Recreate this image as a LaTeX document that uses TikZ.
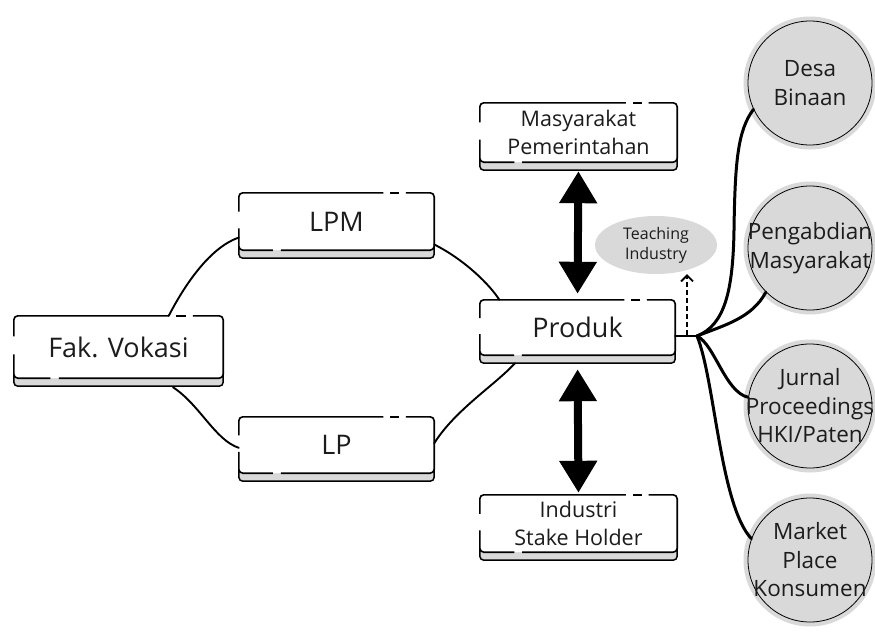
\documentclass[tikz,border=0pt]{standalone}
\usepackage{fontspec}
\setmainfont{Open Sans}
\usetikzlibrary{calc,arrows.meta,backgrounds,shapes.geometric}
\definecolor{shade}{HTML}{D9D9D9}
\definecolor{ink}{HTML}{1C1C1C}
\newcommand{\sketchframe}[1]{%
  \begin{pgfonlayer}{background}
    \filldraw[fill=shade, draw=black, line width=1.5pt, rounded corners=4pt]
      ($(#1.south west)+(0,8)$) rectangle ($(#1.south east)+(0,-8)$);
    \fill[white, rounded corners=4pt] (#1.south west) rectangle (#1.north east);
  \end{pgfonlayer}
  \draw[frameline] ($(#1.north west)!0.62!(#1.south west)$) -- (#1.south west) -- ($(#1.south west)!0.175!(#1.south east)$);
  \draw[frameline] ($(#1.south west)!0.215!(#1.south east)$) -- (#1.south east) -- (#1.north east) -- ($(#1.north west)!0.855!(#1.north east)$);
  \draw[frameline] ($(#1.north west)!0.82!(#1.north east)$) -- ($(#1.north west)!0.775!(#1.north east)$);
  \draw[frameline] ($(#1.north west)!0.74!(#1.north east)$) -- (#1.north west) -- ($(#1.north west)!0.33!(#1.south west)$);
}
\tikzset{
  frameline/.style={line width=1.6pt, rounded corners=4pt},
  boxnode/.style={inner sep=0pt, align=center, text=ink},
  bigtext/.style={font=\fontsize{27}{32}\selectfont},
  smalltext/.style={font=\fontsize{21.5}{28}\selectfont},
  bubble/.style={circle, minimum size=124pt, inner sep=0pt, fill=shade, draw=black, line width=0.8pt,
     preaction={draw=shade, line width=9pt}},
  bubbletext/.style={align=center, text=ink, font=\fontsize{22.5}{28.5}\selectfont},
  conn/.style={line width=1.9pt, line cap=round},
  fan/.style={line width=3pt, line cap=round},
  bigarrow/.style={line width=8pt, {Triangle[length=32pt,width=36pt]}-{Triangle[length=32pt,width=36pt]}},
}
\begin{document}
\begin{tikzpicture}[x=1pt,y=-1pt]
\useasboundingbox (0,0) rectangle (875,635);
\clip (0,0) rectangle (875,635);
\begin{pgfonlayer}{background}
  \fill[white] (0,0) rectangle (875,635);
\end{pgfonlayer}

% boxes
\node[boxnode, bigtext, minimum width=209pt, minimum height=62pt] (fak) at (118.5,347) {Fak. Vokasi};
\node[boxnode, bigtext, minimum width=195pt, minimum height=57pt] (lpm) at (336.5,221.5) {LPM};
\node[boxnode, bigtext, minimum width=195pt, minimum height=56pt] (lp) at (336.5,445) {LP};
\node[boxnode, smalltext, minimum width=197pt, minimum height=59pt] (mas) at (578.5,132.5) {Masyarakat\\Pemerintahan};
\node[boxnode, bigtext, minimum width=195pt, minimum height=55pt] (prod) at (577.5,327.5) {Produk};
\node[boxnode, smalltext, minimum width=197pt, minimum height=57pt] (ind) at (578.5,523.5) {Industri\\Stake Holder};
\sketchframe{fak}
\sketchframe{lpm}
\sketchframe{lp}
\sketchframe{mas}
\sketchframe{prod}
\sketchframe{ind}

% teaching industry
\node[ellipse, fill=shade, minimum width=122pt, minimum height=58pt, inner sep=0pt, align=center,
      text=ink, font=\fontsize{16}{20}\selectfont] (ti) at (656,245) {Teaching\\Industry};

% circles
\node[bubble] (desa) at (810,83) {};
\node[bubble] (peng) at (810,248) {};
\node[bubble] (jur) at (810,406) {};
\node[bubble] (mkt) at (810,560) {};
\node[bubbletext] at (desa) {Desa\\Binaan};
\node[bubbletext] at (peng) {Pengabdian\\Masyarakat};
\node[bubbletext] at (jur) {Jurnal\\Proceedings\\HKI/Paten};
\node[bubbletext] at (mkt) {Market\\Place\\Konsumen};

% double arrows
\draw[bigarrow, shorten <=9pt, shorten >=6pt] (mas.south) -- (prod.north);
\draw[bigarrow, shorten <=14pt, shorten >=2pt] (prod.south) -- (ind.north);

% left connectors
\draw[conn] ($(fak.north west)!0.74!(fak.north east)$) .. controls (182,290) and (208,248) .. ($(lpm.north west)!0.78!(lpm.south west)$);
\draw[conn] ($(fak.south west)!0.76!(fak.south east)+(0,9)$) .. controls (200,405) and (215,440) .. ($(lp.north west)!0.55!(lp.south west)$);
\draw[conn] ($(lpm.north east)!0.9!(lpm.south east)$) .. controls (465,260) and (490,285) .. ($(prod.north west)!0.1!(prod.north east)$);
\draw[conn] ($(lp.north east)!0.47!(lp.south east)$) .. controls (455,410) and (495,385) .. ($(prod.south west)!0.18!(prod.south east)+(0,8)$);

% fan
\coordinate (hub) at (697,336);
\coordinate (tistart) at (687,335);
\draw[fan, line width=2pt] (prod.east |- hub) -- (hub);
\draw[fan] (hub) .. controls (725,325) and (733,290) .. (734,230) .. controls (735,160) and (738,130) .. (desa.205);
\draw[fan] (hub) .. controls (725,325) and (752,318) .. (peng.225);
\draw[fan] (hub) .. controls (715,345) and (725,392) .. (jur.172);
\draw[fan] (hub) .. controls (715,380) and (720,505) .. (mkt.160);

% dashed arrow
\draw[line width=1.8pt, dashed, dash pattern=on 5pt off 3pt, -{Straight Barb[length=6pt,width=12pt]}] (tistart) -- (tistart |- ti.south);
\end{tikzpicture}
\end{document}
